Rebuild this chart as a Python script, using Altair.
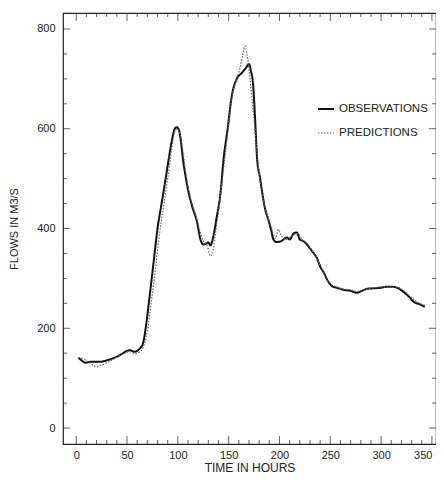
import altair as alt
import pandas as pd

# Observed flows (time in hours, flow in m3/s)
obs_t = [2, 5, 9, 15, 24, 32, 40, 46, 50, 53, 57, 63, 66, 69, 72, 76, 80, 84, 88, 91, 94, 97, 99,
         101, 103, 105, 108, 110, 114, 119, 122, 125, 128, 130, 132, 135, 138, 142, 145, 149, 153,
         158, 163, 167, 170, 172, 174, 176, 178, 181, 183, 186, 189, 192, 194, 197, 201, 204, 207,
         210, 214, 217, 220, 224, 227, 230, 233, 237, 240, 244, 247, 252, 257, 263, 270, 276, 281,
         286, 292, 299, 305, 312, 317, 322, 327, 332, 338, 343]
obs_q = [141, 136, 131, 133, 133, 137, 143, 150, 155, 156, 153, 160, 172, 210, 260, 330, 400, 450,
         500, 539, 575, 600, 603, 598, 575, 539, 500, 478, 445, 412, 380, 368, 370, 372, 366, 385,
         420, 472, 539, 600, 665, 700, 712, 722, 730, 715, 690, 620, 539, 500, 472, 438, 418, 395,
         378, 373, 374, 378, 382, 378, 390, 392, 378, 374, 368, 360, 352, 340, 324, 310, 297, 284,
         281, 277, 275, 271, 275, 279, 280, 281, 283, 283, 280, 273, 264, 253, 248, 243]

# Predicted flows
pred_t = [5, 10, 15, 20, 25, 32, 40, 46, 52, 58, 62, 66, 70, 74, 78, 82, 86, 90, 94, 97, 100, 102,
          105, 108, 112, 117, 121, 125, 129, 132, 134, 137, 141, 145, 149, 153, 157, 161, 164, 166,
          168, 171, 174, 177, 180, 183, 186, 189, 193, 196, 199, 202, 206, 210, 214, 218, 222, 226,
          230, 234, 238, 242, 246, 251, 256, 262, 270, 276, 282, 288, 295, 302, 310, 316, 322, 328,
          334, 340, 344]
pred_q = [140, 135, 128, 123, 126, 133, 142, 148, 153, 150, 152, 162, 195, 255, 320, 390, 445, 500,
          560, 595, 600, 590, 555, 510, 465, 430, 400, 375, 365, 345, 350, 390, 450, 520, 590, 660,
          695, 720, 750, 766, 750, 700, 640, 570, 510, 470, 440, 420, 395, 380, 398, 385, 378, 382,
          388, 390, 378, 372, 362, 350, 335, 318, 300, 288, 283, 279, 277, 274, 277, 280, 282, 283,
          283, 282, 276, 265, 255, 248, 246]

series_names = ["OBSERVATIONS", "PREDICTIONS"]
x_labels = [0, 50, 100, 150, 200, 250, 300, 350]
y_labels = [0, 200, 400, 600, 800]
x_tick_vals = list(range(0, 360, 10))
y_tick_vals = list(range(0, 850, 50))

W, H = 373, 431
FONT = "Liberation Sans"

df = pd.concat([
    pd.DataFrame({"t": obs_t, "q": obs_q, "series": series_names[0]}),
    pd.DataFrame({"t": pred_t, "q": pred_q, "series": series_names[1]}),
])

xs = alt.Scale(domain=[-13, 354], nice=False, zero=False)
ys = alt.Scale(domain=[-32, 832], nice=False, zero=False)

leg = dict(orient="none", legendX=254, legendY=87, title=None,
           symbolType="stroke", symbolSize=256, symbolStrokeWidth=1.6,
           labelFontSize=11.5, labelFont=FONT, labelColor="#222",
           labelOffset=4, rowPadding=9, padding=0)

lines = alt.Chart(df).mark_line(interpolate="monotone").encode(
    x=alt.X("t:Q", scale=xs, title="TIME IN HOURS",
            axis=alt.Axis(values=x_labels, ticks=False, domain=False, grid=False,
                          labelPadding=5, labelFontSize=11, titleFontSize=12,
                          titlePadding=2, labelFont=FONT, titleFont=FONT, labelFlush=8,
                          labelColor="#222", titleColor="#222", titleFontWeight="normal")),
    y=alt.Y("q:Q", scale=ys, title="FLOWS IN M3/S",
            axis=alt.Axis(values=y_labels, ticks=False, domain=False, grid=False,
                          labelPadding=8, labelFontSize=11, titleFontSize=11,
                          titlePadding=17, labelFont=FONT, titleFont=FONT,
                          labelColor="#222", titleColor="#222", titleFontWeight="normal")),
    color=alt.Color("series:N", scale=alt.Scale(domain=series_names, range=["#111111", "#666666"]),
                    legend=alt.Legend(**leg)),
    strokeDash=alt.StrokeDash("series:N",
                              scale=alt.Scale(domain=series_names, range=[[1, 0], [1.5, 1.5]]),
                              legend=alt.Legend(**leg)),
    strokeWidth=alt.StrokeWidth("series:N",
                                scale=alt.Scale(domain=series_names, range=[2.0, 1.2]),
                                legend=None),
)

xt = pd.DataFrame({"v": x_tick_vals, "len": [16 if v % 50 == 0 else 8 for v in x_tick_vals]})
yt = pd.DataFrame({"v": y_tick_vals, "len": [14 if v % 200 == 0 else 8 for v in y_tick_vals]})

bottom_ticks = alt.Chart(xt).mark_tick(orient="vertical", clip=True, thickness=1, color="#222").encode(
    x=alt.X("v:Q", scale=xs), y=alt.value(H), size=alt.Size("len:Q", scale=None))
top_ticks = alt.Chart(xt).mark_tick(orient="vertical", clip=True, thickness=1, color="#222").encode(
    x=alt.X("v:Q", scale=xs), y=alt.value(0), size=alt.Size("len:Q", scale=None))
left_ticks = alt.Chart(yt).mark_tick(orient="horizontal", clip=True, thickness=1, color="#222").encode(
    y=alt.Y("v:Q", scale=ys), x=alt.value(0), size=alt.Size("len:Q", scale=None))
right_ticks = alt.Chart(yt).mark_tick(orient="horizontal", clip=True, thickness=1, color="#222").encode(
    y=alt.Y("v:Q", scale=ys), x=alt.value(W), size=alt.Size("len:Q", scale=None))

chart = alt.layer(lines, bottom_ticks, top_ticks, left_ticks, right_ticks).properties(
    width=W, height=H,
    autosize=alt.AutoSizeParams(type="none"),
    padding={"left": 55, "top": 5, "right": 0, "bottom": 30},
    background="white",
).configure_view(stroke="#222", strokeWidth=1.2)

chart.save("out.html", embed_options={"renderer": "svg", "actions": False})
